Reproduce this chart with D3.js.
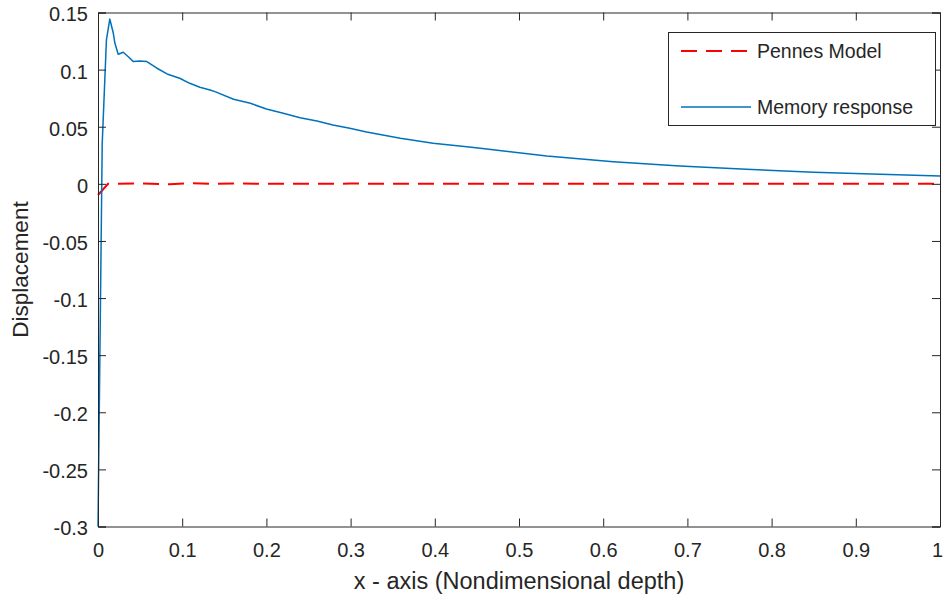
<!DOCTYPE html>
<html>
<head>
<meta charset="utf-8">
<script src="https://cdn.jsdelivr.net/npm/d3@7"></script>
<style>
  body { margin: 0; background: #fff; }
  svg text { font-family: "Liberation Sans", Arial, Helvetica, sans-serif; fill: #262626; }
</style>
</head>
<body>
<div id="chart"></div>
<script>
// Memory response (blue solid)
const memoryX = [0, 0.005, 0.010, 0.014, 0.0182, 0.020, 0.024, 0.030, 0.036, 0.042, 0.050, 0.058,
  0.070, 0.082, 0.097, 0.109, 0.121, 0.133, 0.139, 0.161, 0.181, 0.200, 0.220, 0.240, 0.260,
  0.279, 0.299, 0.319, 0.359, 0.398, 0.438, 0.454, 0.533, 0.612, 0.691, 0.770, 0.850, 0.929, 1.0];
const memoryY = [-0.3, 0.035, 0.126, 0.1443, 0.1318, 0.1233, 0.1134, 0.1152, 0.1113, 0.1070, 0.1076, 0.1070,
  0.1012, 0.0962, 0.0924, 0.0880, 0.0845, 0.0822, 0.0807, 0.0740, 0.0705, 0.0655, 0.0618, 0.0579, 0.0550,
  0.0515, 0.0486, 0.0454, 0.0399, 0.0355, 0.0325, 0.0311, 0.0244, 0.0194, 0.0156, 0.0127, 0.0101, 0.0083, 0.0068];

// Pennes model (red dashed)
const pennesX = [0, 0.012, 0.05, 0.085, 0.11, 0.14, 0.16, 0.2, 0.3, 0.5, 0.7, 1.0];
const pennesY = [-0.0098, 0, 0.0003, -0.0003, 0.0005, 0, 0.0004, 0, 0.0002, 0, 0, 0];

const xTicks = [0, 0.1, 0.2, 0.3, 0.4, 0.5, 0.6, 0.7, 0.8, 0.9, 1];
const yTicks = [0.15, 0.1, 0.05, 0, -0.05, -0.1, -0.15, -0.2, -0.25, -0.3];

const W = 943, H = 598;
const margin = { top: 12.5, right: 3, bottom: 71.5, left: 98 };
const width = W - margin.left - margin.right;
const height = H - margin.top - margin.bottom;

const svg = d3.select('#chart').append('svg')
    .attr('width', W).attr('height', H);
const g = svg.append('g')
    .attr('transform', `translate(${margin.left},${margin.top})`);

const x = d3.scaleLinear().domain([0, 1]).range([0, width]);
const y = d3.scaleLinear().domain([-0.3, 0.15]).range([height, 0]);

// MATLAB style labels: plain hyphen minus
const fmt = d => String(+d.toFixed(2));

const memory = memoryX.map((v, i) => [v, memoryY[i]]);
const pennes = pennesX.map((v, i) => [v, pennesY[i]]);
const line = d3.line().x(d => x(d[0])).y(d => y(d[1]));

g.append('path')
    .datum(pennes)
    .attr('fill', 'none')
    .attr('stroke', '#ff0000')
    .attr('stroke-width', 2)
    .attr('stroke-dasharray', '16,9')
    .attr('d', line);

g.append('path')
    .datum(memory)
    .attr('fill', 'none')
    .attr('stroke', '#0072bd')
    .attr('stroke-width', 1.5)
    .attr('stroke-linejoin', 'round')
    .attr('d', line);

// axes, ticks inward on all four sides
const tl = 8;
const xAxis = g.append('g').attr('transform', `translate(0,${height})`)
    .call(d3.axisBottom(x).tickValues(xTicks).tickSize(-tl).tickPadding(16).tickFormat(fmt));
g.append('g')
    .call(d3.axisTop(x).tickValues(xTicks).tickSize(-tl).tickFormat(''));
const yAxis = g.append('g')
    .call(d3.axisLeft(y).tickValues(yTicks).tickSize(-tl).tickPadding(10).tickFormat(fmt));
g.append('g').attr('transform', `translate(${width},0)`)
    .call(d3.axisRight(y).tickValues(yTicks).tickSize(-tl).tickFormat(''));

g.selectAll('.domain').attr('stroke', '#262626').attr('stroke-width', 1);
g.selectAll('.tick line').attr('stroke', '#262626').attr('stroke-width', 1);
g.selectAll('.tick text').style('font-size', '20px').attr('fill', '#262626');
yAxis.selectAll('.tick text').attr('dy', '0.42em');
// keep the last x label inside the window
xAxis.selectAll('.tick text').filter(d => d === 1).attr('dx', -3);

// axis titles
svg.append('text')
    .attr('x', margin.left + width / 2)
    .attr('y', 589)
    .attr('text-anchor', 'middle')
    .style('font-size', '23.5px')
    .text('x - axis (Nondimensional depth)');

svg.append('text')
    .attr('transform', `translate(28,${margin.top + height / 2}) rotate(-90)`)
    .attr('text-anchor', 'middle')
    .style('font-size', '22.5px')
    .text('Displacement');

// legend
const leg = svg.append('g');
leg.append('rect')
    .attr('x', 668.5).attr('y', 32.5)
    .attr('width', 267).attr('height', 93)
    .attr('fill', '#fff').attr('stroke', '#262626').attr('stroke-width', 1);
const legItems = [
    { name: 'Pennes Model', color: '#ff0000', dash: '16,9', w: 2, y: 51 },
    { name: 'Memory response', color: '#0072bd', dash: null, w: 1.5, y: 107 }
];
legItems.forEach(d => {
    leg.append('line')
        .attr('x1', 681).attr('x2', 751).attr('y1', d.y).attr('y2', d.y)
        .attr('stroke', d.color).attr('stroke-width', d.w)
        .attr('stroke-dasharray', d.dash);
    leg.append('text')
        .attr('x', 757).attr('y', d.y + 7)
        .style('font-size', '19.5px')
        .text(d.name);
});
</script>
</body>
</html>
